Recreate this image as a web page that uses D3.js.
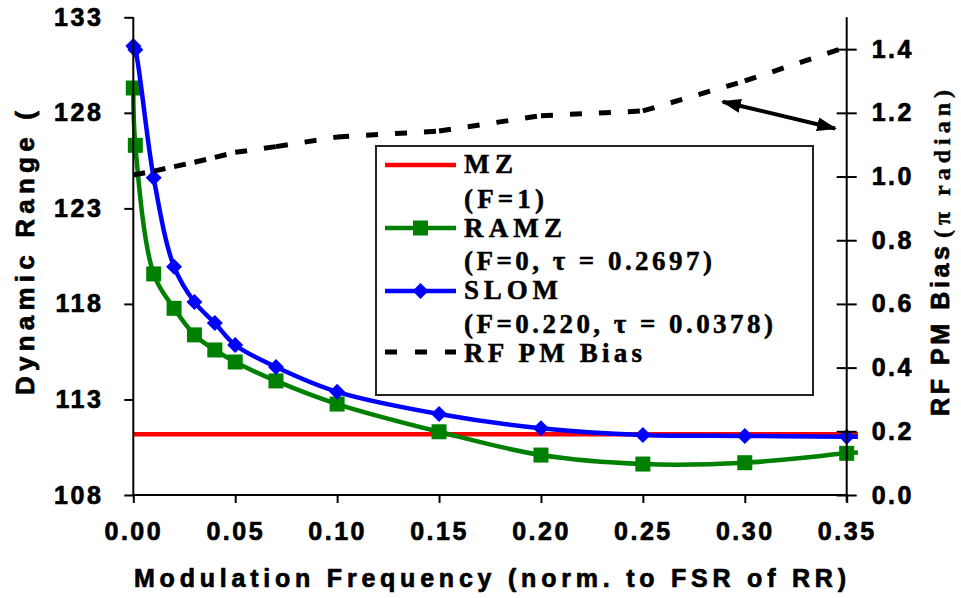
<!DOCTYPE html>
<html><head><meta charset="utf-8">
<script src="https://cdn.jsdelivr.net/npm/d3@7"></script>
<style>body{margin:0;background:#fff}svg{display:block}</style>
</head><body>
<script>
// ---------- data ----------
const freq = [0, 0.001, 0.01, 0.02, 0.03, 0.04, 0.05, 0.07, 0.10, 0.15, 0.20, 0.25, 0.30, 0.35];
const slomDR = [131.5, 131.3, 124.6, 119.95, 118.1, 117.0, 115.85, 114.7, 113.4, 112.24, 111.49, 111.14, 111.09, 111.05];
const ramzDR = [129.3, 126.3, 119.57, 117.77, 116.38, 115.59, 114.96, 113.97, 112.76, 111.31, 110.09, 109.62, 109.69, 110.18];
const lineEndFreq = 0.3555;           // plotted lines run slightly past the last point
const slomEndDR = 111.05;
const ramzEndDR = 110.22;
const mzFreq = [0, 0.3555];
const mzDR = [111.18, 111.18];
const biasFreq = [0, 0.01, 0.02, 0.03, 0.04, 0.05, 0.07, 0.10, 0.15, 0.20, 0.25, 0.30, 0.35];
const biasVal = [1.005, 1.017, 1.031, 1.045, 1.060, 1.076, 1.094, 1.124, 1.143, 1.191, 1.206, 1.30, 1.407];
const xTicks = [0, 0.05, 0.10, 0.15, 0.20, 0.25, 0.30, 0.35];
const yLeftTicks = [108, 113, 118, 123, 128, 133];
const yRightTicks = [0, 0.2, 0.4, 0.6, 0.8, 1.0, 1.2, 1.4];
const arrowFreq = [0.2892, 0.3443];
const arrowBias = [1.235, 1.151];
const legendLabels = ["MZ", "(F=1)", "RAMZ", "(F=0, \u03C4 = 0.2697)", "SLOM", "(F=0.220, \u03C4 = 0.0378)", "RF PM Bias"];

// ---------- layout ----------
const W = 961, H = 598;
const L = 133.3, R = 846.7, T = 17.3, B = 495;
const sans = "'Liberation Sans', Arial, sans-serif";
const serif = "'Liberation Serif', 'Times New Roman', serif";

const svg = d3.select("body").append("svg").attr("width", W).attr("height", H)
  .style("font-family", sans);

const x = d3.scaleLinear().domain([0, 0.35]).range([L, R]);
const yL = d3.scaleLinear().domain([108, 133]).range([B, T]);
const yR = d3.scaleLinear().domain([0, 1.5]).range([B, T]);

const heavy = (sel, w) => sel.attr("stroke", "#000").attr("stroke-width", w).attr("stroke-linejoin", "round");

// ---------- data lines ----------
const curve = d3.curveCatmullRom.alpha(0.5);
const lineL = d3.line().x(d => x(d[0])).y(d => yL(d[1])).curve(curve);

const mzPts = mzFreq.map((f, i) => [f, mzDR[i]]);
const ramzPts = freq.map((f, i) => [f, ramzDR[i]]).concat([[lineEndFreq, ramzEndDR]]);
const slomPts = freq.map((f, i) => [f, slomDR[i]]).concat([[lineEndFreq, slomEndDR]]);

svg.append("path").attr("d", d3.line().x(d => x(d[0])).y(d => yL(d[1]))(mzPts))
  .attr("fill", "none").attr("stroke", "#ff0000").attr("stroke-width", 4.5);

svg.append("path").attr("d", lineL(ramzPts))
  .attr("fill", "none").attr("stroke", "#008000").attr("stroke-width", 4.5);
svg.append("g").selectAll("rect").data(freq.map((f, i) => [f, ramzDR[i]])).join("rect")
  .attr("x", d => x(d[0]) - 7.5).attr("y", d => yL(d[1]) - 7.5)
  .attr("width", 15).attr("height", 15).attr("fill", "#008000");

svg.append("path").attr("d", lineL(slomPts))
  .attr("fill", "none").attr("stroke", "#0000ff").attr("stroke-width", 4.5);
const diamond = "M0,-8L8,0L0,8L-8,0Z";
svg.append("g").selectAll("path").data(freq.map((f, i) => [f, slomDR[i]])).join("path")
  .attr("d", diamond).attr("transform", d => `translate(${x(d[0])},${yL(d[1])})`)
  .attr("fill", "#0000ff");

// bias dashed line: one path per segment (pattern restarts at each vertex)
const biasG = svg.append("g");
for (let i = 0; i < biasFreq.length - 1; i++) {
  biasG.append("line")
    .attr("x1", x(biasFreq[i])).attr("y1", yR(biasVal[i]))
    .attr("x2", x(biasFreq[i + 1])).attr("y2", yR(biasVal[i + 1]))
    .attr("stroke", "#000").attr("stroke-width", 5).attr("stroke-dasharray", "12,17");
}

// ---------- axes ----------
const axisStyle = g => {
  g.select(".domain").remove();
  g.selectAll("line").attr("stroke", "#000").attr("stroke-width", 2);
  g.selectAll("text").attr("fill", "#000").attr("font-family", sans)
    .attr("font-weight", "bold").attr("font-size", 25).attr("letter-spacing", 2.5)
    .call(heavy, 0.7);
};

// x axis
const gx = svg.append("g").attr("transform", `translate(0,${B})`)
  .call(d3.axisBottom(x).tickValues(xTicks).tickFormat(d3.format(".2f")).tickSize(8).tickPadding(19))
  .call(axisStyle);
gx.selectAll("text").attr("dx", 0);

// left axis
const gyl = svg.append("g").attr("transform", `translate(${L},0)`)
  .call(d3.axisLeft(yL).tickValues(yLeftTicks).tickFormat(d3.format("d")).tickSize(9).tickPadding(21))
  .call(axisStyle);

// right axis (crossing ticks)
const gyr = svg.append("g").attr("transform", `translate(${R},0)`)
  .call(d3.axisRight(yR).tickValues(yRightTicks).tickFormat(d3.format(".1f")).tickSize(10).tickPadding(15))
  .call(axisStyle);
gyr.selectAll(".tick line").attr("x1", -10);

// axis lines
svg.append("line").attr("x1", L).attr("x2", L).attr("y1", T).attr("y2", B).attr("stroke", "#000").attr("stroke-width", 2);
svg.append("line").attr("x1", R).attr("x2", R).attr("y1", T).attr("y2", B + 7).attr("stroke", "#000").attr("stroke-width", 2);
svg.append("line").attr("x1", L).attr("x2", R).attr("y1", B).attr("y2", B).attr("stroke", "#000").attr("stroke-width", 2);

// axis titles
svg.append("text").attr("x", 490).attr("y", 587).attr("text-anchor", "middle")
  .attr("font-weight", "bold").attr("font-size", 25)
  .attr("textLength", 712).attr("lengthAdjust", "spacing")
  .call(heavy, 0.7)
  .text("Modulation Frequency (norm. to FSR of RR)");

svg.append("text").attr("transform", "translate(34,395) rotate(-90)")
  .attr("font-weight", "bold").attr("font-size", 26)
  .attr("textLength", 284).attr("lengthAdjust", "spacing")
  .call(heavy, 0.7)
  .text("Dynamic Range (");

svg.append("text").attr("transform", "translate(949,416) rotate(-90)")
  .attr("font-weight", "bold").attr("font-size", 25)
  .attr("textLength", 170).attr("lengthAdjust", "spacing")
  .call(heavy, 0.7)
  .text("RF PM Bias");
svg.append("text").attr("transform", "translate(950,238) rotate(-90)")
  .attr("font-family", serif).attr("font-weight", "bold").attr("font-size", 24)
  .attr("textLength", 148).attr("lengthAdjust", "spacing")
  .call(heavy, 0.4)
  .text("(\u03C0 radian)");

// ---------- arrow annotation ----------
const defs = svg.append("defs");
defs.append("marker").attr("id", "ah").attr("viewBox", "0 0 20 14")
  .attr("refX", 18).attr("refY", 7).attr("markerWidth", 20).attr("markerHeight", 14)
  .attr("markerUnits", "userSpaceOnUse").attr("orient", "auto-start-reverse")
  .append("path").attr("d", "M0,0L20,7L0,14Z").attr("fill", "#000");
svg.append("line")
  .attr("x1", x(arrowFreq[0])).attr("y1", yR(arrowBias[0]))
  .attr("x2", x(arrowFreq[1])).attr("y2", yR(arrowBias[1]))
  .attr("stroke", "#000").attr("stroke-width", 4)
  .attr("marker-start", "url(#ah)").attr("marker-end", "url(#ah)");

// ---------- legend ----------
const lg = svg.append("g");
lg.append("rect").attr("x", 376).attr("y", 146).attr("width", 437).attr("height", 249)
  .attr("fill", "#fff").attr("stroke", "#222").attr("stroke-width", 2);
const sx1 = 385, sx2 = 456, smid = 420.5;
lg.append("line").attr("x1", sx1).attr("x2", sx2).attr("y1", 165).attr("y2", 165)
  .attr("stroke", "#ff0000").attr("stroke-width", 4.5);
lg.append("line").attr("x1", sx1).attr("x2", sx2).attr("y1", 228).attr("y2", 228)
  .attr("stroke", "#008000").attr("stroke-width", 4.5);
lg.append("rect").attr("x", smid - 7.5).attr("y", 228 - 7.5).attr("width", 15).attr("height", 15).attr("fill", "#008000");
lg.append("line").attr("x1", sx1).attr("x2", sx2).attr("y1", 291).attr("y2", 291)
  .attr("stroke", "#0000ff").attr("stroke-width", 4.5);
lg.append("path").attr("d", diamond).attr("transform", `translate(${smid},291)`).attr("fill", "#0000ff");
lg.append("line").attr("x1", sx1).attr("x2", sx2).attr("y1", 352).attr("y2", 352)
  .attr("stroke", "#000").attr("stroke-width", 5).attr("stroke-dasharray", "12,18");

const legendY = [173, 208, 237, 270, 299, 333, 362];
const legendW = [49, 80, 98, 248, 94, 309, 178];
legendLabels.forEach((t, i) => {
  lg.append("text").attr("x", 464).attr("y", legendY[i])
    .attr("font-family", serif).attr("font-weight", "bold").attr("font-size", 27)
    .attr("textLength", legendW[i]).attr("lengthAdjust", "spacing")
    .call(heavy, 0.5)
    .text(t);
});
</script>
</body></html>
